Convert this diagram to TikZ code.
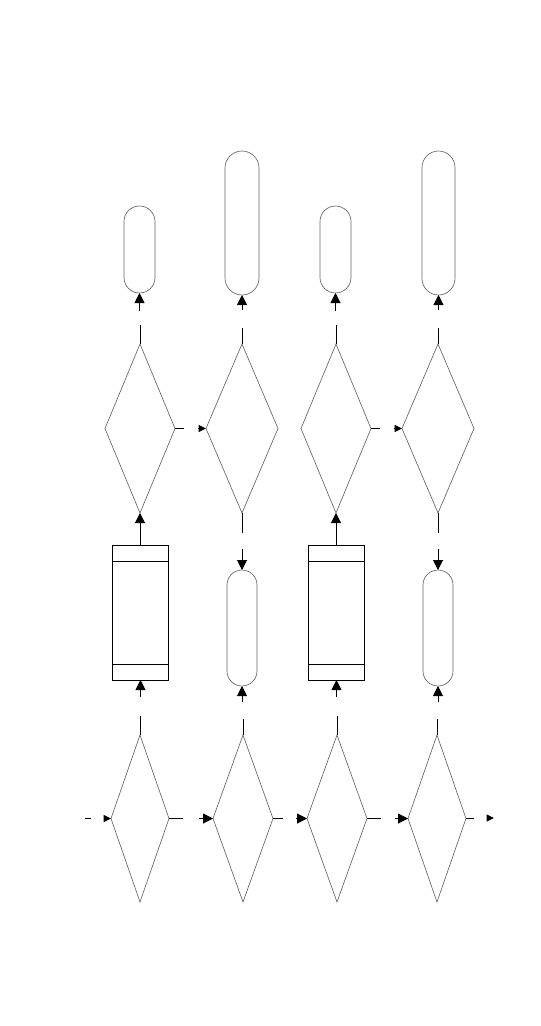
\documentclass[tikz,border=0pt]{standalone}
\usetikzlibrary{shapes.geometric,arrows.meta}
\def\pxu{0.75pt}
\tikzset{
  decision/.style 2 args = {diamond, draw=black!60, line width=0.5pt,
                inner sep=0pt, outer sep=0pt,
                minimum width=#1*\pxu, minimum height=#2*\pxu},
  terminal/.style 2 args = {rectangle, draw=black!60, line width=0.5pt,
                inner sep=0pt, outer sep=0pt, rounded corners=#1*0.375pt,
                minimum width=#1*\pxu, minimum height=#2*\pxu},
  process/.style = {rectangle, draw=black, line width=0.75pt,
                inner sep=0pt, outer sep=0pt,
                minimum width=56*\pxu, minimum height=135*\pxu},
  stub/.style = {draw=black, line width=0.75pt},
  arrowbig/.style = {stub, -{Triangle[length=7.5pt,width=7.5pt]}},
  arrowsmall/.style = {stub, -{Triangle[length=5.5pt,width=5.2pt]}}
}

\begin{document}
\begin{tikzpicture}[x=0.75pt,y=-0.75pt]
	\useasboundingbox (0,0) rectangle (540,1026);

	% Bottom row diamonds
	\node[decision={58}{167}] (bd1) at (140,818.5) {};
	\node[decision={60}{167}] (bd2) at (243,818.5) {};
	\node[decision={60}{167}] (bd3) at (337,818.5) {};
	\node[decision={58}{167}] (bd4) at (437,818.5) {};

	% Middle row diamonds
	\node[decision={70}{169}] (md1) at (140,428.5) {};
	\node[decision={72}{169}] (md2) at (242,428.5) {};
	\node[decision={70}{169}] (md3) at (336,428.5) {};
	\node[decision={72}{169}] (md4) at (438,428.5) {};

	% Processes
	\node[process] (pr1) at (140.5,612.5) {};
	\node[process] (pr3) at (336.5,612.5) {};
	\foreach \p in {pr1,pr3} {
		\draw[stub] ([yshift=-16*\pxu]\p.north west) -- ([yshift=-16*\pxu]\p.north east);
		\draw[stub] ([yshift=16*\pxu]\p.south west) -- ([yshift=16*\pxu]\p.south east);
	}

	% Terminals
	\node[terminal={30}{116}] (mc2) at (242,628) {};
	\node[terminal={30}{116}] (mc4) at (438,628) {};
	\node[terminal={31}{87}]  (tc1) at (139.5,249.5) {};
	\node[terminal={31}{87}]  (tc3) at (335.5,249.5) {};
	\node[terminal={34}{144}] (tc2) at (242,223) {};
	\node[terminal={33}{144}] (tc4) at (438.5,223) {};

	% Bottom row, left to right
	\coordinate (out) at (494,818);
	\draw[stub] ([xshift=-26*\pxu]bd1.west) -- ++(6,0);
	\draw[arrowsmall] ([xshift=-7*\pxu]bd1.west) -- (bd1.west);
	\draw[stub] (bd1.east) -- ++(14,0);
	\draw[arrowbig] ([xshift=-14*\pxu]bd2.west) -- (bd2.west);
	\draw[stub] (bd2.east) -- ++(10,0);
	\draw[arrowbig] ([xshift=-11*\pxu]bd3.west) -- (bd3.west);
	\draw[stub] (bd3.east) -- ++(14,0);
	\draw[arrowbig] ([xshift=-13*\pxu]bd4.west) -- (bd4.west);
	\draw[stub] (bd4.east) -- ++(8,0);
	\draw[arrowsmall] ([xshift=-7*\pxu]out) -- (out);

	% Bottom row, upwards
	\foreach \d/\p in {bd1/pr1,bd3/pr3} {
		\draw[stub] (\d.north) -- ++(0,-19);
		\draw[arrowbig] ([yshift=-17*\pxu]\p.south) -- (\p.south);
	}
	\foreach \d/\c in {bd2/mc2,bd4/mc4} {
		\draw[stub] (\d.north) -- ++(0,-16);
		\draw[arrowbig] ([yshift=-16*\pxu]\c.south) -- (\c.south);
	}

	% Middle row
	\foreach \d/\p/\t in {md1/pr1/tc1,md3/pr3/tc3} {
		\draw[arrowbig] (\p.north -| \d.south) -- (\d.south);
		\draw[stub] (\d.north) -- ++(0,-19);
		\draw[arrowbig] ([yshift=-18*\pxu]\t.south) -- (\t.south);
		\draw[stub] (\d.east) -- ++(9,0);
	}
	\foreach \d/\c/\t in {md2/mc2/tc2,md4/mc4/tc4} {
		\draw[stub] (\d.south) -- ++(0,20);
		\draw[arrowbig] ([yshift=21*\pxu]\c.north) -- (\c.north);
		\draw[stub] (\d.north) -- ++(0,-16);
		\draw[arrowbig] ([yshift=-15*\pxu]\t.south) -- (\t.south);
		\draw[arrowsmall] ([xshift=-8*\pxu]\d.west) -- (\d.west);
	}

\end{tikzpicture}
\end{document}
